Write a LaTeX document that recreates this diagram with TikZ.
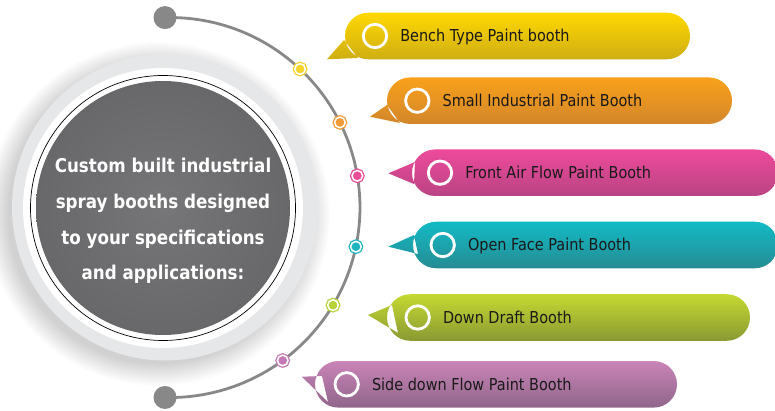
\documentclass[tikz,border=0pt]{standalone}
\usepackage{fontspec}
\setmainfont{DejaVu Sans}[FakeStretch=0.88]
\usetikzlibrary{shapes,positioning}
\definecolor{arcGray}{HTML}{888888}
\definecolor{ringGray}{HTML}{E6E7E8}
\definecolor{diskIn}{HTML}{767678}
\definecolor{diskOut}{HTML}{5A5A5C}
\definecolor{yelTop}{HTML}{FFD800}\definecolor{yelBot}{HTML}{CFAE14}\definecolor{yelDot}{HTML}{F6D32C}
\definecolor{oraTop}{HTML}{F9A11B}\definecolor{oraBot}{HTML}{D2862A}\definecolor{oraDot}{HTML}{F39B36}
\definecolor{pinTop}{HTML}{EE4A9B}\definecolor{pinBot}{HTML}{B94484}\definecolor{pinDot}{HTML}{E94D99}
\definecolor{teaTop}{HTML}{12BAC5}\definecolor{teaBot}{HTML}{268C93}\definecolor{teaDot}{HTML}{1EB5BF}
\definecolor{greTop}{HTML}{C5D931}\definecolor{greBot}{HTML}{8A9933}\definecolor{greDot}{HTML}{B7D33A}
\definecolor{purTop}{HTML}{CA84B8}\definecolor{purBot}{HTML}{8F668A}\definecolor{purDot}{HTML}{C47AB5}
\pgfdeclareradialshading{diskshade}{\pgfpoint{0bp}{0bp}}{color(0bp)=(diskIn); color(50bp)=(diskOut)}
\def\Title{Custom built industrial\\ spray booths designed\\ to your specifications\\ and applications:}

\begin{document}
\begin{tikzpicture}[% pixel coordinates, y grows downwards
			x=1pt, y=-1pt,
			arcline/.style={draw=arcGray, line width=2.8pt},
			enddot/.style={circle, fill=arcGray, minimum size=23pt, inner sep=0pt},
			dot/.style={circle, draw=#1, fill=#1, double=white, double distance=1.5pt,
				line width=1.3pt, minimum size=10.6pt, inner sep=0pt},
			icon/.style={circle, draw=white, line width=2.8pt, minimum size=23.4pt, inner sep=0pt},
			itemtext/.style={font=\fontsize{16.4}{18}\selectfont, text=black!90,
				inner sep=0pt, text height=11.9pt, text depth=0pt}
		]
		\useasboundingbox (0,0) rectangle (775,411);
		\clip (0,0) rectangle (775,411);
		% big round badge with a soft shadow
		\foreach \r in {150,...,172}
			\fill[black, opacity=.009] (158,214) circle[radius=\r pt];
		\fill[ringGray] (165,207.5) circle[radius=153pt];
		\fill[white] (163,208) circle[radius=140pt];
		\draw[black, line width=.7pt] (163,208) circle[radius=132.5pt];
		\shade[shading=diskshade] (163,208) circle[radius=127pt];
		\node[align=center, text=white, inner sep=0pt,
			font=\bfseries\fontsize{19}{35.7}\selectfont] (Title) at (163,221) {\Title};
		% timeline arc
		\node[enddot] (Top) at (165,17.6) {};
		\draw[arcline] (Top.center) arc[start angle=91.5, end angle=-91.5, radius=190pt] coordinate (Bot);
		\node[enddot] (End) at (Bot) {};
		\foreach \i/\x/\y/\c in {1/300.1/69/yelDot, 2/339.9/122.4/oraDot, 3/357.3/175.8/pinDot,
				4/355.9/246.7/teaDot, 5/333/305.1/greDot, 6/282.7/360.5/purDot}
			\node[dot=\c] (d\i) at (\x,\y) {};
		% speech bubbles
		\foreach \i/\xl/\xr/\cy/\tx/\ty/\ax/\ay/\bx/\by/\ix/\ct/\cb/\lab in {
				1/345/690/36/327/59.3/344/40/358/58/375/yelTop/yelBot/Bench Type Paint booth,
				2/387/732/100.7/370/116.7/387/105/400/123/417.3/oraTop/oraBot/Small Industrial Paint Booth,
				3/412/778/172.7/388.3/173.3/415/162/414/184/440/pinTop/pinBot/Front Air Flow Paint Booth,
				4/413/778/245/388.3/246.7/414/235/418/254/442.7/teaTop/teaBot/Open Face Paint Booth,
				5/387/750/317.5/368/315/392/305/398/333/417.7/greTop/greBot/Down Draft Booth,
				6/315/677/384.3/301.7/376.7/322/376/328/402/346.7/purTop/purBot/Side down Flow Paint Booth}{
			\shade[top color=\ct, bottom color=\cb]
				[rounded corners=23.3pt] (\xl,\cy-23.3) rectangle (\xr,\cy+23.3)
				[sharp corners] (\tx,\ty) -- (\ax,\ay) -- (\bx,\by) -- cycle;
			\node[icon] (ic\i) at (\ix,\cy) {};
			\node[itemtext, right=12pt of ic\i] (it\i) {\lab};
		}
	\end{tikzpicture}
\end{document}
